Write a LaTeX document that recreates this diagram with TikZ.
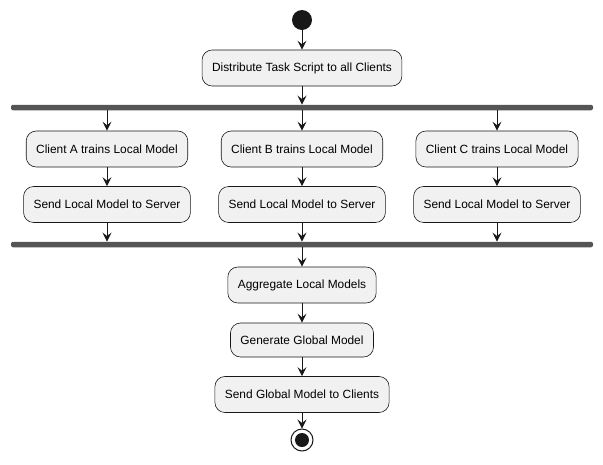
\documentclass[tikz,border=0pt]{standalone}
\usepackage{fontspec}
\setmainfont{Liberation Sans}
\usetikzlibrary{arrows.meta}
\definecolor{boxfill}{HTML}{F1F1F1}
\definecolor{lnc}{HTML}{181818}
\definecolor{barc}{HTML}{555555}
\tikzset{
  act/.style={draw=lnc, fill=boxfill, rounded corners=10pt, line width=0.6pt,
    minimum height=36pt, inner xsep=10pt, font=\fontsize{11.9}{14}\selectfont, text=black},
  bar/.style={fill=barc, draw=none, minimum height=5.5pt, minimum width=582pt, inner sep=0pt, rounded corners=2pt},
  flow/.style={draw=lnc, line width=0.9pt, -{Stealth[length=9pt,width=9pt,inset=3.5pt]}}
}
\begin{document}
\begin{tikzpicture}[x=1pt,y=-1pt]
\useasboundingbox (0,0) rectangle (603,464);
\node[circle, fill=lnc, minimum size=20pt, inner sep=0pt] (start) at (302,20) {};
\node[act] (dist) at (302,68) {Distribute Task Script to all Clients};
\node[bar] (fork) at (302,107.5) {};
\node[act] (a1) at (107,149) {Client A trains Local Model};
\node[act] (b1) at (302,149) {Client B trains Local Model};
\node[act] (c1) at (497,149) {Client C trains Local Model};
\node[act] (a2) at (107,204.5) {Send Local Model to Server};
\node[act] (b2) at (302,204.5) {Send Local Model to Server};
\node[act] (c2) at (497,204.5) {Send Local Model to Server};
\node[bar] (join) at (302,244.5) {};
\node[act] (agg) at (302,285) {Aggregate Local Models};
\node[act, minimum height=34pt] (gen) at (302,340) {Generate Global Model};
\node[act] (sendg) at (302,394.5) {Send Global Model to Clients};
\node[circle, draw=lnc, fill=white, line width=1pt, minimum size=22pt, inner sep=0pt] (end) at (302,440) {};
\fill[lnc] (end.center) circle (7pt);
\draw[flow] (start) -- (dist);
\draw[flow] (dist) -- (dist |- fork.north);
\foreach \n in {a,b,c}{
  \draw[flow] (\n1 |- fork.south) -- (\n1);
  \draw[flow] (\n1) -- (\n2);
  \draw[flow] (\n2) -- (\n2 |- join.north);
}
\draw[flow] (agg |- join.south) -- (agg);
\draw[flow] (agg) -- (gen);
\draw[flow] (gen) -- (sendg);
\draw[flow] (sendg) -- (end);
\end{tikzpicture}
\end{document}
